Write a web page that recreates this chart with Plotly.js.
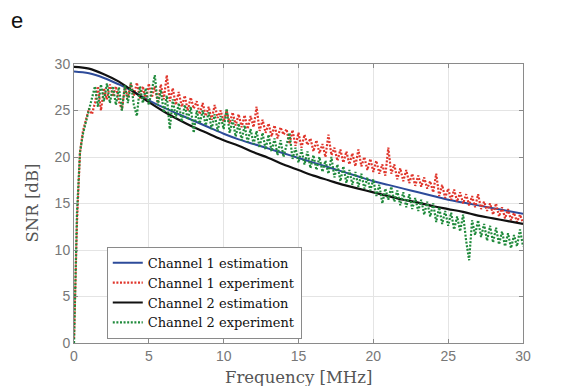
<!DOCTYPE html>
<html>
<head>
<meta charset="utf-8">
<script src="https://cdn.plot.ly/plotly-3.0.1.min.js"></script>
<style>html,body{margin:0;padding:0;background:#fff;}#chart{width:574px;height:386px;}</style>
</head>
<body>
<div id="chart"></div>
<script>
// Estimation curves sampled every 1 MHz
const estFreq = [0,1,2,3,4,5,6,7,8,9,10,11,12,13,14,15,16,17,18,19,20,21,22,23,24,25,26,27,28,29,30];
const ch1Est = [29.2,29.0,28.5,27.8,27.0,26.1,25.3,24.6,23.9,23.2,22.5,21.9,21.4,20.9,20.4,19.9,19.4,18.9,18.4,17.9,17.4,17.0,16.6,16.2,15.8,15.4,15.1,14.8,14.5,14.2,13.9];
const ch2Est = [29.7,29.5,28.9,28.1,27.0,25.9,24.9,24.0,23.2,22.5,21.8,21.2,20.5,19.9,19.2,18.6,18.0,17.5,17.0,16.6,16.2,15.8,15.4,15.1,14.7,14.4,14.1,13.7,13.4,13.1,12.8];

// Experimental curves sampled every 0.2 MHz (0 ... 30)
const ch1Exp = [0.5,13,20.5,22.8,24.0,25.2,24.6,25.8,27.6,25.0,
27.4,26.2,27.8,26.5,27.6,26.0,25.1,27.5,26.4,27.9,
26.6,28.0,26.3,27.6,26.0,27.9,26.4,27.6,25.8,27.8,
26.2,28.8,26.0,27.4,25.6,27.0,25.4,26.6,25.0,26.4,
25.2,26.0,24.6,25.8,24.4,25.4,24.0,25.6,24.2,25.0,
23.8,25.0,23.6,24.8,23.4,24.6,23.2,24.5,23.0,24.4,
23.2,25.4,22.8,24.0,22.6,23.6,22.2,23.4,22.0,23.2,
22.4,23.0,21.4,22.9,21.2,22.6,21.0,22.4,21.3,22.0,
20.6,21.8,20.4,21.4,20.0,22.4,20.2,21.0,19.6,20.8,
19.4,20.6,19.2,20.4,19.0,20.8,19.0,20.0,18.6,19.8,
18.4,19.6,18.2,19.2,18.0,21.0,18.2,19.2,17.6,18.8,
17.4,18.6,17.2,18.2,16.9,18.0,16.8,17.8,16.6,17.4,
16.2,18.2,15.8,17.0,15.6,16.6,15.4,16.5,15.2,16.2,
15.0,16.0,14.8,15.8,14.6,16.0,14.4,15.2,14.2,15.0,
13.8,15.0,13.6,14.6,13.4,14.4,13.2,14.0,13.0,13.8,
12.9];
const ch2Exp = [0,14,20.5,22.5,23.8,25.0,26.2,27.6,25.4,27.8,
26.0,27.9,25.8,27.6,25.6,27.5,25.0,27.7,25.8,28.0,
25.6,24.4,27.6,25.8,27.4,25.6,27.2,28.8,25.6,27.2,
24.8,26.6,23.0,26.2,24.2,25.8,23.8,25.6,24.0,25.4,
22.6,25.0,23.6,25.0,23.4,24.8,23.0,24.6,22.8,24.4,
23.0,25.2,22.6,24.0,22.2,23.6,21.8,23.4,21.6,23.0,
21.4,22.8,21.0,22.6,20.8,22.4,20.6,22.0,20.2,21.8,
20.0,21.2,22.6,19.8,21.0,19.4,20.8,19.2,20.6,18.8,
20.2,18.6,20.0,18.4,19.6,18.2,20.0,17.8,19.2,17.4,
19.0,17.2,18.6,17.0,18.4,16.8,18.2,16.6,17.8,16.4,
17.6,15.8,17.0,15.0,16.6,15.4,16.8,15.2,16.4,14.8,
16.2,14.6,16.0,14.4,15.6,14.2,15.4,13.8,15.2,13.6,
15.0,13.0,14.6,12.8,14.2,12.6,14.0,12.2,13.6,12.0,
13.8,11.0,8.9,13.2,11.6,13.2,11.4,12.8,11.0,12.6,
10.8,12.4,10.6,12.0,10.4,11.8,10.2,11.6,10.4,12.2,
10.4];
const expFreq = ch1Exp.map((_, i) => +(i * 0.2).toFixed(1));

const xTicks = [0,5,10,15,20,25,30];
const yTicks = [0,5,10,15,20,25,30];
const names = ['Channel 1 estimation','Channel 1 experiment','Channel 2 estimation','Channel 2 experiment'];

const dotted = '2px,1.6px';
const traces = [
  {x: estFreq, y: ch1Est, name: names[0], mode: 'lines', line: {color: '#2d4b9a', width: 2, shape: 'spline'}},
  {x: expFreq, y: ch1Exp, name: names[1], mode: 'lines', line: {color: '#e0352b', width: 2.2, dash: dotted}},
  {x: estFreq, y: ch2Est, name: names[2], mode: 'lines', line: {color: '#111111', width: 2.2, shape: 'spline'}},
  {x: expFreq, y: ch2Exp, name: names[3], mode: 'lines', line: {color: '#1f8a3b', width: 2.2, dash: dotted}}
];

const axisCommon = {
  showline: true, mirror: 'ticks', linecolor: '#8a8a8a', linewidth: 1,
  ticks: 'inside', ticklen: 4, tickcolor: '#8a8a8a',
  showgrid: true, gridcolor: '#e4e4e4', gridwidth: 1,
  zeroline: false,
  tickfont: {family: 'Liberation Sans, Arial, sans-serif', size: 14, color: '#777'}
};

const titleFont = {family: 'DejaVu Serif, serif', size: 16.5, color: '#555'};

const layout = {
  width: 574, height: 386,
  margin: {l: 74, r: 51, t: 64, b: 43},
  paper_bgcolor: '#fff', plot_bgcolor: '#fff',
  showlegend: true,
  legend: {
    x: 0.073, y: 0.345, xanchor: 'left', yanchor: 'top',
    bgcolor: '#fff', bordercolor: '#8a8a8a', borderwidth: 1,
    font: {family: 'DejaVu Serif, serif', size: 13, color: '#111'},
    tracegroupgap: 0, itemwidth: 30
  },
  xaxis: Object.assign({}, axisCommon, {range: [0, 30], tickvals: xTicks, ticktext: xTicks.map(String)}),
  yaxis: Object.assign({}, axisCommon, {range: [0, 30], tickvals: yTicks, ticktext: yTicks.map(String)}),
  annotations: [
    {text: 'e', xref: 'paper', yref: 'paper', x: -0.145, y: 1.155,
     xanchor: 'left', yanchor: 'middle', showarrow: false,
     font: {family: 'Liberation Sans, Arial, sans-serif', size: 22, color: '#111'}},
    {text: 'Frequency [MHz]', xref: 'paper', yref: 'paper', x: 0.5, y: -0.125,
     xanchor: 'center', yanchor: 'middle', showarrow: false, font: titleFont},
    {text: 'SNR [dB]', xref: 'paper', yref: 'paper', x: -0.0935, y: 0.5, textangle: -90,
     xanchor: 'center', yanchor: 'middle', showarrow: false, font: titleFont}
  ]
};

Plotly.newPlot('chart', traces, layout, {displayModeBar: false, staticPlot: true});
</script>
</body>
</html>
